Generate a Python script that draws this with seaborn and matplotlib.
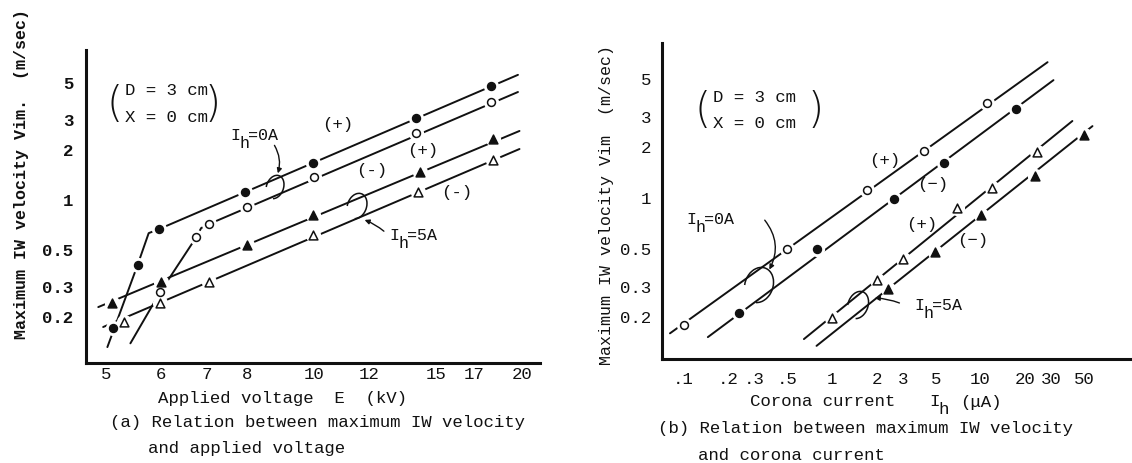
import matplotlib
matplotlib.use("Agg")
import matplotlib.pyplot as plt
from matplotlib.patches import Arc
from matplotlib.ticker import NullLocator, FixedLocator, FixedFormatter
from matplotlib.transforms import IdentityTransform
import seaborn as sns

# ---------------- (a) velocity vs applied voltage ----------------
volt_pos_0a = [5.12, 5.55, 5.96, 7.93, 9.96, 14.05, 18.0]
vel_pos_0a = [0.171, 0.408, 0.67, 1.12, 1.67, 3.1, 4.8]
volt_neg_0a = [5.98, 6.75, 7.05, 8.0, 10.0, 14.05, 18.0]
vel_neg_0a = [0.28, 0.60, 0.72, 0.91, 1.37, 2.52, 3.86]
volt_pos_5a = [5.10, 6.0, 8.0, 9.94, 14.2, 18.1]
vel_pos_5a = [0.242, 0.323, 0.538, 0.81, 1.47, 2.32]
volt_neg_5a = [5.31, 5.98, 7.05, 9.96, 14.1, 18.1]
vel_neg_5a = [0.187, 0.242, 0.323, 0.617, 1.12, 1.74]

# drawn curves through the points
fit_volt_pos_0a = [5.02, 5.55, 5.76, 5.96, 19.7]
fit_vel_pos_0a = [0.132, 0.408, 0.634, 0.67, 5.61]
fit_volt_neg_0a = [5.42, 5.98, 6.75, 6.86, 7.05, 19.7]
fit_vel_neg_0a = [0.139, 0.28, 0.60, 0.68, 0.72, 4.43]
fit_volt_pos_5a = [4.87, 19.8]
fit_vel_pos_5a = [0.229, 2.59]
fit_volt_neg_5a = [4.95, 19.8]
fit_vel_neg_5a = [0.174, 2.02]

volt_ticks = [5, 6, 7, 8, 9, 10, 11, 12, 13, 14, 15, 16, 17, 18, 19, 20]
volt_labels = ["5", "6", "7", "8", "", "10", "", "12", "", "", "15", "", "17", "", "", "20"]

# ---------------- (b) velocity vs corona current ----------------
cur_pos_0a = [0.1015, 0.499, 1.72, 4.2, 11.1]
velb_pos_0a = [0.18, 0.50, 1.11, 1.89, 3.62]
cur_neg_0a = [0.238, 0.79, 2.61, 5.65, 17.2]
velb_neg_0a = [0.21, 0.50, 0.99, 1.61, 3.34]
cur_pos_5a = [1.0, 2.0, 3.0, 6.9, 11.9, 23.8]
velb_pos_5a = [0.197, 0.33, 0.438, 0.873, 1.145, 1.865]
cur_neg_5a = [2.38, 4.91, 10.0, 23.4, 49.9]
velb_neg_5a = [0.291, 0.481, 0.794, 1.347, 2.35]

fit_cur_pos_0a = [0.0818, 28.2]
fit_velb_pos_0a = [0.16, 6.3]
fit_cur_neg_0a = [0.147, 30.9]
fit_velb_neg_0a = [0.152, 4.94]
fit_cur_pos_5a = [0.65, 41.4]
fit_velb_pos_5a = [0.148, 2.84]
fit_cur_neg_5a = [0.79, 56.5]
fit_velb_neg_5a = [0.135, 2.65]

cur_ticks = [0.1, 0.2, 0.3, 0.5, 1, 2, 3, 5, 10, 20, 30, 50]
cur_labels = [".1", ".2", ".3", ".5", "1", "2", "3", "5", "10", "20", "30", "50"]

vel_ticks = [0.2, 0.3, 0.5, 1, 2, 3, 5]
vel_labels = ["0.2", "0.3", "0.5", "1", "2", "3", "5"]

W, H = 1132, 463
MONO = "Liberation Mono"
FS = 12.5

sns.set_style("white")
plt.rcParams["font.family"] = [MONO, "DejaVu Sans"]

fig = plt.figure(figsize=(W / 100, H / 100), dpi=100)
ink = "#111111"


def fx(x):
    return x / W


def fy(y):
    return 1 - y / H


def draw_series(ax, x, y, marker, filled):
    # white halo makes the break in the line around each point
    sns.scatterplot(x=x, y=y, ax=ax, marker="o", color="white", s=120,
                    linewidth=0, zorder=3)
    sns.scatterplot(x=x, y=y, ax=ax, marker=marker,
                    color=ink if filled else "white", edgecolor=ink,
                    s=32 if marker == "o" else 40, linewidth=1.1, zorder=4)


def draw_fit(ax, x, y):
    sns.lineplot(x=x, y=y, ax=ax, color=ink, linewidth=1.4, sort=False,
                 estimator=None, zorder=2)


def style_axes(ax, xticks, xlabels, xlim, ylim, xpad, ypad, ybold):
    ax.set_xlim(*xlim)
    ax.set_ylim(*ylim)
    for side in ["top", "right"]:
        ax.spines[side].set_visible(False)
    for side in ["left", "bottom"]:
        ax.spines[side].set_linewidth(2.2)
        ax.spines[side].set_color(ink)
    ax.xaxis.set_major_locator(FixedLocator(xticks))
    ax.xaxis.set_major_formatter(FixedFormatter(xlabels))
    ax.yaxis.set_major_locator(FixedLocator(vel_ticks))
    ax.yaxis.set_major_formatter(FixedFormatter(vel_labels))
    ax.xaxis.set_minor_locator(NullLocator())
    ax.yaxis.set_minor_locator(NullLocator())
    ax.tick_params(axis="x", direction="in", length=5, width=1.5,
                   pad=xpad, labelsize=FS, colors=ink)
    ax.tick_params(axis="y", direction="in", length=5, width=1.5,
                   pad=ypad, labelsize=FS, colors=ink)
    if ybold:
        for t in ax.get_yticklabels():
            t.set_fontweight("bold")
    ax.set_xlabel("")
    ax.set_ylabel("")
    ax.patch.set_alpha(0)


def put(x, y, s, **kw):
    kw.setdefault("fontsize", FS)
    kw.setdefault("color", ink)
    fig.text(fx(x), fy(y), s, **kw)


def ih(x, y, rest, fs=12.5):
    # typewriter style "I" with subscript "h"
    cw = fs * 1.389 * 0.6
    put(x, y, "I", va="center", fontsize=fs)
    put(x + cw * 0.9, y + 8, "h", va="center", fontsize=fs)
    if rest:
        put(x + cw * 1.8, y - 1, rest, va="center", fontsize=fs)


def loop(cx, cy, w, h, angle=0, t1=0, t2=360):
    fig.patches.append(Arc((cx, H - cy), w, h, angle=angle, theta1=t1,
                           theta2=t2, transform=IdentityTransform(),
                           color=ink, linewidth=1.1))


def arrow(x0, y0, x1, y1, rad):
    fig.add_artist(plt.Annotation(
        "", xy=(x1, H - y1), xytext=(x0, H - y0),
        xycoords="figure pixels", textcoords="figure pixels",
        arrowprops=dict(arrowstyle="-|>", color=ink, lw=1.0,
                        mutation_scale=7,
                        connectionstyle="arc3,rad=%s" % rad)))


# ---------------- panel (a) ----------------
ax1 = fig.add_axes([fx(86), fy(363), fx(540) - fx(86), fy(50) - fy(363)])
ax1.set(xscale="log", yscale="log")
draw_fit(ax1, fit_volt_pos_0a, fit_vel_pos_0a)
draw_fit(ax1, fit_volt_neg_0a, fit_vel_neg_0a)
draw_fit(ax1, fit_volt_pos_5a, fit_vel_pos_5a)
draw_fit(ax1, fit_volt_neg_5a, fit_vel_neg_5a)
draw_series(ax1, volt_pos_0a, vel_pos_0a, "o", True)
draw_series(ax1, volt_neg_0a, vel_neg_0a, "o", False)
draw_series(ax1, volt_pos_5a, vel_pos_5a, "^", True)
draw_series(ax1, volt_neg_5a, vel_neg_5a, "^", False)
style_axes(ax1, volt_ticks, volt_labels, (4.675, 21.2), (0.106, 7.9),
           xpad=3, ypad=9, ybold=True)

# ---------------- panel (b) ----------------
ax2 = fig.add_axes([fx(662), fy(359), fx(1130) - fx(662), fy(43) - fy(359)])
ax2.set(xscale="log", yscale="log")
draw_fit(ax2, fit_cur_pos_0a, fit_velb_pos_0a)
draw_fit(ax2, fit_cur_neg_0a, fit_velb_neg_0a)
draw_fit(ax2, fit_cur_pos_5a, fit_velb_pos_5a)
draw_fit(ax2, fit_cur_neg_5a, fit_velb_neg_5a)
draw_series(ax2, cur_pos_0a, velb_pos_0a, "o", False)
draw_series(ax2, cur_neg_0a, velb_neg_0a, "o", True)
draw_series(ax2, cur_pos_5a, velb_pos_5a, "^", False)
draw_series(ax2, cur_neg_5a, velb_neg_5a, "^", True)
style_axes(ax2, cur_ticks, cur_labels, (0.0723, 101), (0.113, 8.17),
           xpad=9, ypad=8, ybold=False)

# ---------------- y labels ----------------
put(22, 174, "Maximum IW velocity Vim.  (m/sec)", rotation=90,
    ha="center", va="center", fontweight="bold", fontsize=12)
put(607, 205, "Maximum IW velocity Vim  (m/sec)", rotation=90,
    ha="center", va="center", fontsize=12)

# ---------------- captions ----------------
put(158, 398, "Applied voltage  E  (kV)", va="center")
put(110, 423, "(a) Relation between maximum IW velocity", va="center")
put(148, 449, "and applied voltage", va="center")
put(750, 402, "Corona current", va="center")
ih(929, 402, "")
put(960, 402, "(\u03bcA)", va="center")
put(658, 428, "(b) Relation between maximum IW velocity", va="center")
put(698, 455, "and corona current", va="center")

# ---------------- condition boxes ----------------
for x0, y0, xr in [(125, 91, 215), (713, 97, 818)]:
    put(x0, y0, "D = 3 cm", va="center")
    put(x0, y0 + 26, "X = 0 cm", va="center")
    put(x0 - 10, y0 + 13, "(", va="center", ha="center", fontsize=30,
        family="DejaVu Sans", fontweight="light")
    put(xr - 2, y0 + 13, ")", va="center", ha="center", fontsize=30,
        family="DejaVu Sans", fontweight="light")

# ---------------- polarity labels ----------------
for x, y, s in [(338, 125, "(+)"), (372, 170, "(-)"), (423, 150, "(+)"),
                (457, 193, "(-)"), (885, 160, "(+)"), (933, 185, "(\u2212)"),
                (922, 225, "(+)"), (973, 240, "(\u2212)")]:
    put(x, y, s, ha="center", va="center")

# ---------------- heater current notes ----------------
ih(230, 136, "=0A", fs=12)
arrow(273, 143, 277, 176, -0.25)
loop(275, 187, 17, 24, angle=-20, t1=-80, t2=200)

ih(389, 236, "=5A", fs=12)
arrow(386, 233, 362, 219, 0.1)
loop(357, 206, 19, 26, angle=-20, t1=-80, t2=200)

ih(686, 220, "=0A", fs=12)
arrow(763, 218, 768, 272, -0.35)
loop(759, 285, 28, 36, angle=-20, t1=-80, t2=200)

ih(914, 306, "=5A", fs=12)
arrow(902, 304, 872, 298, 0.1)
loop(858, 305, 20, 28, angle=-20, t1=-80, t2=200)

fig.savefig("out.png", dpi=100)
